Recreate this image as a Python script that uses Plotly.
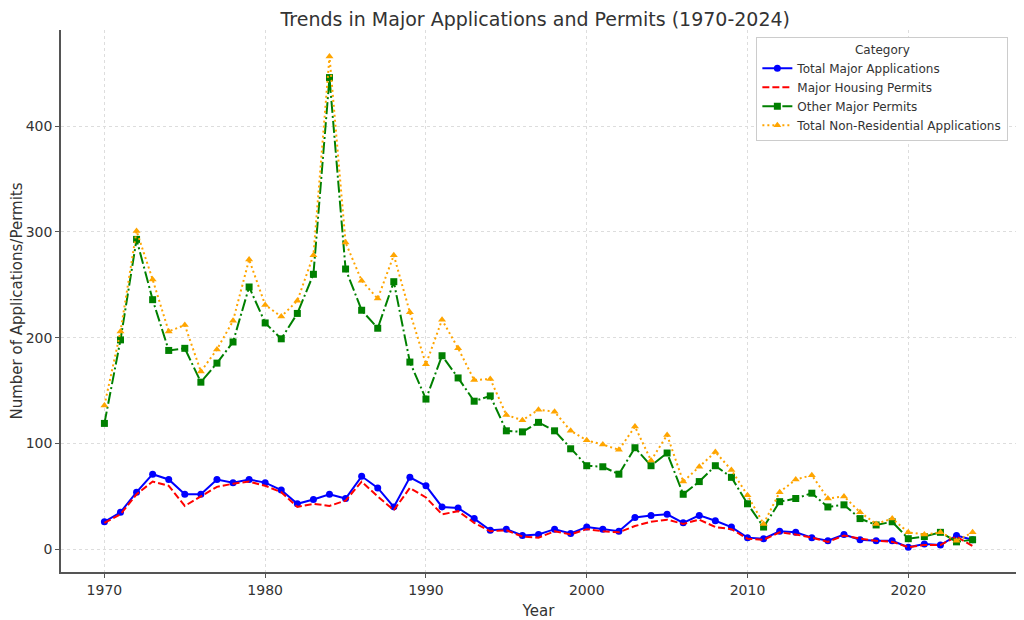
import plotly.graph_objects as go

years = list(range(1970, 2025))

total_major_applications = [
    26, 35, 54, 71, 66, 52, 52, 66, 63, 66,
    63, 56, 43, 47, 52, 48, 69, 58, 40, 68,
    60, 40, 39, 29, 18, 19, 13, 14, 19, 15,
    21, 19, 17, 30, 32, 33, 25, 32, 27, 21,
    11, 10, 17, 16, 11, 8, 14, 9, 8, 8,
    2, 5, 4, 13, 9,
]

major_housing_permits = [
    25, 33, 52, 64, 60, 41, 50, 59, 62, 64,
    60, 54, 40, 43, 41, 46, 64, 50, 37, 58,
    49, 33, 36, 25, 17, 18, 12, 11, 17, 14,
    19, 17, 16, 22, 26, 28, 24, 28, 21, 19,
    10, 9, 16, 14, 11, 7, 13, 10, 8, 7,
    2, 4, 4, 12, 3,
]

other_major_permits = [
    119, 198, 293, 236, 188, 190, 158, 176, 196, 248,
    214, 199, 223, 260, 446, 265, 226, 209, 253, 177,
    142, 183, 162, 140, 145, 112, 111, 120, 112, 95,
    79, 78, 71, 96, 79, 91, 52, 64, 79, 68,
    43, 21, 45, 48, 53, 40, 42, 29, 23, 26,
    10, 12, 16, 7, 9,
]

total_non_residential = [
    136, 206, 301, 255, 206, 212, 168, 189, 216, 274,
    231, 220, 235, 278, 466, 290, 254, 237, 278, 224,
    175, 217, 190, 160, 161, 127, 122, 132, 130, 112,
    103, 99, 94, 116, 84, 108, 64, 78, 92, 75,
    51, 24, 54, 66, 70, 48, 50, 35, 24, 29,
    16, 14, 16, 8, 16,
]

# name, values, colour, dash pattern, marker
series = [
    ("Total Major Applications", total_major_applications, "blue", "solid", "circle"),
    ("Major Housing Permits", major_housing_permits, "red", "7px,3px", None),
    ("Other Major Permits", other_major_permits, "green", "12px,3px,2px,3px", "square"),
    ("Total Non-Residential Applications", total_non_residential, "orange", "2px,3px", "triangle-up"),
]

fig = go.Figure()
for name, vals, color, dash, symbol in series:
    fig.add_trace(go.Scatter(
        x=years, y=vals, name=name,
        mode="lines+markers" if symbol else "lines",
        line=dict(color=color, dash=dash, width=2),
        marker=dict(symbol=symbol or "circle", size=7, color=color),
    ))

axis_style = dict(
    showline=True, linecolor="#555555", linewidth=1.5,
    ticks="outside", ticklen=4, tickcolor="#555555",
    showgrid=True, gridcolor="#dddddd", griddash="dot", gridwidth=1,
    zeroline=False, mirror=False, automargin=False,
    tickfont=dict(size=14, color="#333333"),
)

# the page puts the figure 8px in from the top-left corner, so the figure
# is 8px smaller and the margins shifted to keep the plot area in place
fig.update_layout(
    width=1016, height=612,
    margin=dict(l=53, r=8, t=22, b=48),
    paper_bgcolor="white", plot_bgcolor="white",
    font=dict(family="DejaVu Sans", color="#333333"),
    title=dict(text="Trends in Major Applications and Permits (1970-2024)",
               x=0.519, xanchor="center", y=0.982, yanchor="middle",
               font=dict(size=19, color="#333333")),
    xaxis=dict(axis_style, range=[1967.3, 2026.7], tickvals=[1970, 1980, 1990, 2000, 2010, 2020],
               title=dict(text="Year", font=dict(size=15))),
    yaxis=dict(axis_style, range=[-21.5, 491], tickvals=[0, 100, 200, 300, 400],
               title=dict(text="Number of Applications/Permits", font=dict(size=15))),
    legend=dict(
        x=0.992, xanchor="right", y=0.987, yanchor="top",
        bgcolor="white", bordercolor="#cccccc", borderwidth=1,
        font=dict(size=12, color="#333333"),
        title=dict(text="Category", side="top center", font=dict(size=12)),
        tracegroupgap=0,
    ),
    showlegend=True,
)

fig.write_html("out.html")
